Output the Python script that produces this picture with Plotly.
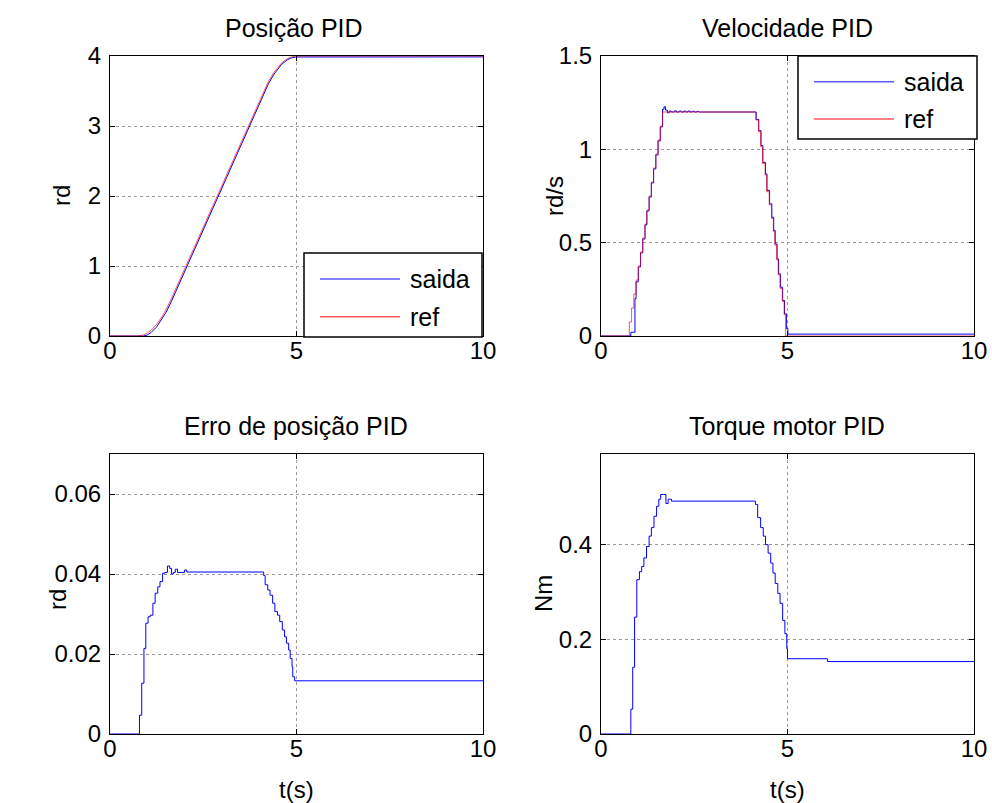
import plotly.graph_objects as go

# ---------------- data ----------------
# Position (rd)
pos_ref_t = [0, 0.75, 0.9, 1.0, 1.1, 1.25, 1.4, 1.5, 1.65, 2.0, 2.5, 3.0, 3.5, 4.08, 4.25, 4.4, 4.5, 4.6, 4.75, 4.85, 4.98, 10]
pos_ref_v = [0, 0, 0.015, 0.042, 0.082, 0.167, 0.282, 0.375, 0.54, 0.96, 1.56, 2.16, 2.76, 3.456, 3.641, 3.772, 3.842, 3.900, 3.961, 3.985, 4.0, 4.0]
pos_out_t = pos_ref_t
pos_out_v = [0, 0, 0.0, 0.014, 0.05, 0.13, 0.243, 0.335, 0.5, 0.92, 1.52, 2.12, 2.72, 3.416, 3.606, 3.743, 3.818, 3.88, 3.944, 3.97, 3.986, 3.987]

# Velocity (rd/s)
vel_ref_t = [0, 0.76, 0.82, 0.88, 0.94, 1.00, 1.06, 1.12, 1.18, 1.23, 1.29, 1.35, 1.41, 1.47, 1.53, 1.59, 1.65,
             4.15, 4.22, 4.28, 4.33, 4.40, 4.44, 4.51, 4.57, 4.62, 4.66, 4.71, 4.75, 4.80, 4.86, 4.91, 4.95, 10]
vel_ref_v = [0, 0.075, 0.15, 0.225, 0.3, 0.375, 0.45, 0.525, 0.6, 0.675, 0.75, 0.825, 0.9, 0.975, 1.05, 1.125, 1.2,
             1.157, 1.094, 1.014, 0.925, 0.862, 0.773, 0.702, 0.63, 0.559, 0.487, 0.407, 0.327, 0.255, 0.184, 0.113, 0.0, 0.0]
vel_out_t = [0, 0.80, 0.91, 0.94, 1.00, 1.06, 1.12, 1.18, 1.23, 1.29, 1.35, 1.41, 1.47, 1.53, 1.59, 1.65, 1.69, 1.73,
             1.78, 1.83, 1.88, 1.97, 2.02, 2.10, 2.15, 2.22, 2.27, 2.33, 2.39, 2.45, 2.50, 2.57, 2.62,
             4.16, 4.23, 4.29, 4.34, 4.41, 4.45, 4.52, 4.58, 4.63, 4.67, 4.72, 4.76, 4.81, 4.87, 4.92, 4.97, 5.01, 10]
vel_out_v = [0, 0.02, 0.2, 0.29, 0.37, 0.445, 0.52, 0.595, 0.67, 0.745, 0.82, 0.895, 0.97, 1.045, 1.12, 1.215, 1.228, 1.21,
             1.196, 1.205, 1.2, 1.206, 1.2, 1.205, 1.2, 1.205, 1.2, 1.205, 1.2, 1.204, 1.2, 1.203, 1.2,
             1.16, 1.1, 1.02, 0.93, 0.868, 0.78, 0.708, 0.636, 0.565, 0.493, 0.413, 0.333, 0.261, 0.19, 0.119, 0.04, 0.01, 0.01]

# Position error (rd)
err_t = [0, 0.72, 0.79, 0.85, 0.91, 0.96, 1.02, 1.08, 1.15, 1.21, 1.28, 1.34, 1.41, 1.47, 1.54, 1.60, 1.65, 1.70, 1.75,
         1.81, 1.93, 2.00, 2.06, 4.08, 4.12, 4.16, 4.23, 4.29, 4.36, 4.42, 4.49, 4.55, 4.62, 4.68, 4.73, 4.79, 4.83,
         4.88, 4.90, 4.95, 10]
err_v = [0, 0, 0.0047, 0.0127, 0.0214, 0.0277, 0.0293, 0.0297, 0.0327, 0.0352, 0.0368, 0.0381, 0.0402, 0.0404, 0.042,
         0.0414, 0.040, 0.0404, 0.0412, 0.0404, 0.0404, 0.041, 0.0405, 0.0405, 0.0396, 0.0373, 0.036, 0.0347, 0.0327,
         0.0306, 0.0297, 0.0281, 0.026, 0.0243, 0.0227, 0.021, 0.0189, 0.0168, 0.0143, 0.0133, 0.0133]

# Motor torque (Nm)
trq_t = [0, 0.73, 0.80, 0.85, 0.90, 0.96, 1.03, 1.09, 1.15, 1.22, 1.29, 1.35, 1.42, 1.49, 1.55, 1.60, 1.67, 1.74,
         1.80, 1.89, 4.08, 4.14, 4.20, 4.28, 4.35, 4.41, 4.48, 4.55, 4.61, 4.67, 4.74, 4.80, 4.87, 4.93, 4.98, 5.00,
         6.07, 10]
trq_v = [0, 0, 0.0525, 0.141, 0.247, 0.326, 0.343, 0.354, 0.372, 0.396, 0.418, 0.436, 0.46, 0.481, 0.496, 0.506,
         0.506, 0.487, 0.496, 0.492, 0.492, 0.485, 0.457, 0.436, 0.418, 0.40, 0.382, 0.361, 0.34, 0.318, 0.297, 0.276,
         0.24, 0.212, 0.18, 0.159, 0.153, 0.153]

titles = ["Posição PID", "Velocidade PID", "Erro de posição PID", "Torque motor PID"]
ylabels = ["rd", "rd/s", "rd", "Nm"]
xlabel = "t(s)"
legend_labels = ["saida", "ref"]

# ---------------- layout geometry ----------------
W, H = 992, 803
FONT = "Liberation Sans, Arial, sans-serif"
BLUE = "rgb(0,0,255)"
RED = "rgba(255,0,0,0.65)"

def px(x):
    return x / W

def py(y):
    return 1 - y / H

xdom = [[px(110), px(483)], [px(601), px(974)]]
ydom_top = [py(336), py(56)]
ydom_bot = [py(734), py(454)]

fig = go.Figure()

# position
fig.add_trace(go.Scatter(x=pos_out_t, y=pos_out_v, mode="lines", line=dict(color=BLUE, width=1), xaxis="x", yaxis="y"))
fig.add_trace(go.Scatter(x=pos_ref_t, y=pos_ref_v, mode="lines", line=dict(color=RED, width=1), xaxis="x", yaxis="y"))
# velocity
fig.add_trace(go.Scatter(x=vel_out_t, y=vel_out_v, mode="lines", line=dict(color=BLUE, width=1, shape="hv"), xaxis="x2", yaxis="y2"))
fig.add_trace(go.Scatter(x=vel_ref_t, y=vel_ref_v, mode="lines", line=dict(color=RED, width=1, shape="hv"), xaxis="x2", yaxis="y2"))
# error
fig.add_trace(go.Scatter(x=err_t, y=err_v, mode="lines", line=dict(color=BLUE, width=1, shape="hv"), xaxis="x3", yaxis="y3"))
# torque
fig.add_trace(go.Scatter(x=trq_t, y=trq_v, mode="lines", line=dict(color=BLUE, width=1, shape="hv"), xaxis="x4", yaxis="y4"))

axis_common = dict(showline=True, linecolor="black", linewidth=1, mirror="allticks", ticks="inside",
                   ticklen=5, tickcolor="black", showgrid=True, gridcolor="#9a9a9a", griddash="dot",
                   gridwidth=1, zeroline=False, automargin=False, ticklabeloverflow="allow",
                   tickfont=dict(family=FONT, size=24, color="black"))

xt = dict(tickvals=[0, 5, 10], ticktext=["0", "5", "10"], range=[0, 10], ticklabelstandoff=-7)
yt = dict(ticklabelstandoff=3)

fig.update_layout(
    template="none",
    width=W, height=H, showlegend=False,
    margin=dict(l=0, r=0, t=0, b=0, pad=0),
    paper_bgcolor="white", plot_bgcolor="white",
    xaxis=dict(domain=xdom[0], anchor="y", **xt, **axis_common),
    yaxis=dict(domain=ydom_top, anchor="x", range=[0, 4], tickvals=[0, 1, 2, 3, 4], **yt, **axis_common),
    xaxis2=dict(domain=xdom[1], anchor="y2", **xt, **axis_common),
    yaxis2=dict(domain=ydom_top, anchor="x2", range=[0, 1.5], tickvals=[0, 0.5, 1, 1.5],
                ticktext=["0", "0.5", "1", "1.5"], **yt, **axis_common),
    xaxis3=dict(domain=xdom[0], anchor="y3", **xt, **axis_common),
    yaxis3=dict(domain=ydom_bot, anchor="x3", range=[0, 0.07], tickvals=[0, 0.02, 0.04, 0.06],
                ticktext=["0", "0.02", "0.04", "0.06"], **yt, **axis_common),
    xaxis4=dict(domain=xdom[1], anchor="y4", **xt, **axis_common),
    yaxis4=dict(domain=ydom_bot, anchor="x4", range=[0, 0.5915], tickvals=[0, 0.2, 0.4],
                ticktext=["0", "0.2", "0.4"], **yt, **axis_common),
)

ann = []
tfont = dict(family=FONT, size=25, color="black")
# titles
for i, (cx, cy) in enumerate([(294, 28), (787, 28), (296, 426), (787, 426)]):
    ann.append(dict(text=titles[i], x=px(cx), y=py(cy), xref="paper", yref="paper", showarrow=False,
                    font=tfont, xanchor="center", yanchor="middle"))
# y labels
for i, (cx, cy) in enumerate([(62, 196), (555, 196), (57, 600), (543, 594)]):
    ann.append(dict(text=ylabels[i], x=px(cx), y=py(cy), xref="paper", yref="paper", showarrow=False,
                    font=dict(family=FONT, size=24, color="black"), textangle=-90,
                    xanchor="center", yanchor="middle"))
# x labels
for cx in (296, 787):
    ann.append(dict(text=xlabel, x=px(cx), y=py(789), xref="paper", yref="paper", showarrow=False,
                    font=dict(family=FONT, size=24, color="black"), xanchor="center", yanchor="middle"))

# legends (drawn boxes)
shapes = []
lfont = dict(family=FONT, size=25, color="black")
for (x0, y0, x1, y1) in [(304, 253, 482, 337), (798, 56, 977, 139)]:
    shapes.append(dict(type="rect", xref="paper", yref="paper", x0=px(x0), x1=px(x1), y0=py(y1), y1=py(y0),
                       line=dict(color="black", width=1.5), fillcolor="white", layer="above"))
    r1 = y0 + (y1 - y0) * 0.31
    r2 = y0 + (y1 - y0) * 0.76
    lx0 = x0 + 16
    lx1 = x0 + 96
    for ry, col, lab in [(r1, "rgb(90,90,255)", legend_labels[0]), (r2, "rgb(255,90,90)", legend_labels[1])]:
        shapes.append(dict(type="line", xref="paper", yref="paper", x0=px(lx0), x1=px(lx1), y0=py(ry), y1=py(ry),
                           line=dict(color=col, width=1.5), layer="above"))
        ann.append(dict(text=lab, x=px(lx1 + 8), y=py(ry), xref="paper", yref="paper", showarrow=False,
                        font=lfont, xanchor="left", yanchor="middle"))

fig.update_layout(annotations=ann, shapes=shapes)
# remove the default 8px page margin so the 992x803 figure fills the window exactly
fig.write_html("out.html", config={"displayModeBar": False},
               post_script="document.body.style.margin='0';document.body.style.overflow='hidden';")
